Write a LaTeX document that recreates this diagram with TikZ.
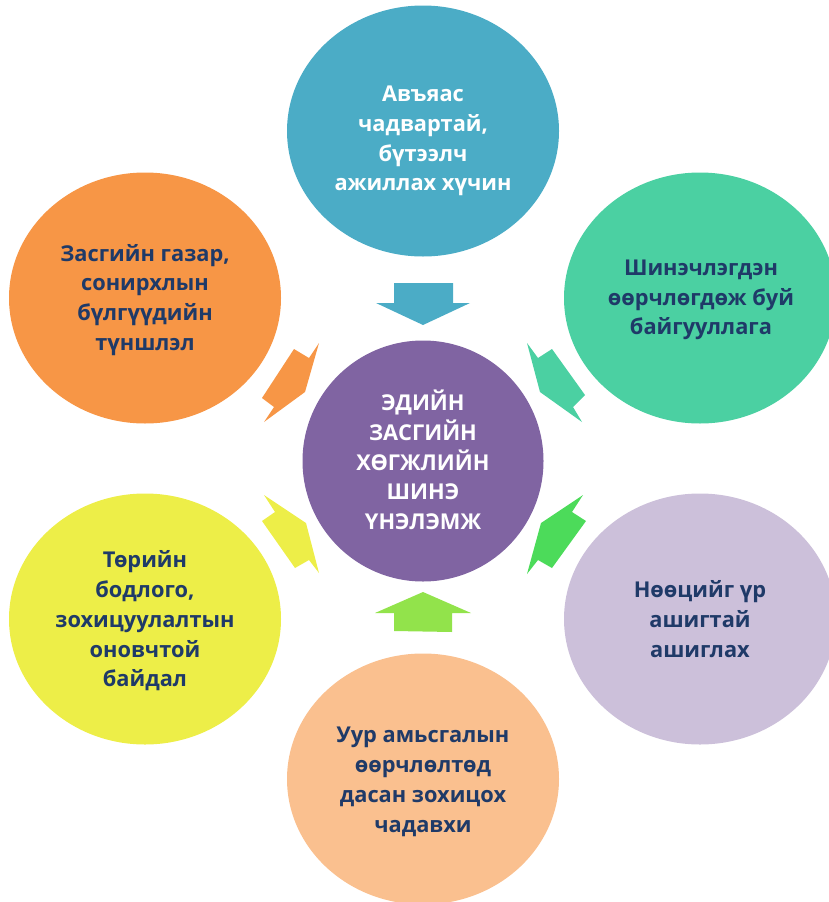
\documentclass[tikz,border=0pt]{standalone}
\usepackage{fontspec}
\setmainfont{Open Sans}
\usetikzlibrary{shapes.geometric}
\definecolor{cteal}{RGB}{75,172,198}
\definecolor{cgreen}{RGB}{75,208,162}
\definecolor{clav}{RGB}{204,192,218}
\definecolor{cpeach}{RGB}{250,192,143}
\definecolor{cyellow}{RGB}{237,238,72}
\definecolor{corange}{RGB}{247,150,70}
\definecolor{cpurple}{RGB}{128,100,162}
\definecolor{cbright}{RGB}{76,219,90}
\definecolor{clime}{RGB}{146,227,75}
\definecolor{ctext}{RGB}{31,58,104}
\begin{document}
\begin{tikzpicture}[x=1pt,y=-1pt,
  bubble/.style={ellipse, draw=none, inner sep=0pt, minimum width=272pt, minimum height=251pt},
  label/.style={align=center, text=ctext, font=\bfseries\fontsize{21.8}{29.8}\selectfont, inner sep=0pt},
  wlabel/.style={label, text=white}]
\useasboundingbox (0,0) rectangle (829,902);
% bubbles
\node[bubble, fill=cteal] (top) at (423,131) {};
\node[bubble, fill=corange] (ul) at (145,298) {};
\node[bubble, fill=cgreen] (ur) at (700,298) {};
\node[bubble, fill=cyellow] (ll) at (145,619) {};
\node[bubble, fill=clav] (lr) at (700,619) {};
\node[bubble, fill=cpeach] (bot) at (423,779) {};
\node[bubble, fill=cpurple, minimum width=241pt, minimum height=241pt] (mid) at (423,461) {};
% arrows
\fill[cteal] (394,283) -- (453,283) -- (453,303) -- (470,303) -- (423,325) -- (376,303) -- (394,303) -- cycle;
\fill[clime] (423,592) -- (471,613) -- (452,613) -- (452,632) -- (394,631) -- (394,613) -- (375,613) -- cycle;
\fill[cgreen] (540,392) -- (527,343) -- (538,358) -- (552,349) -- (585,395) -- (573,407) -- (582,422) -- cycle;
\fill[corange] (305,392) -- (319,343) -- (309,358) -- (294,349) -- (262,398) -- (274,407) -- (264,422) -- cycle;
\fill[cbright] (541,523) -- (583,495) -- (572,512) -- (586,521) -- (552,568) -- (538,560) -- (527,574) -- cycle;
\fill[cyellow] (306,523) -- (264,495) -- (275,512) -- (262,521) -- (295,568) -- (309,560) -- (319,573) -- cycle;
% texts
\node[wlabel] (ttop) at (423,141) {Авъяас\\чадвартай,\\бүтээлч\\ажиллах хүчин};
\node[label] (tul) at (145,300) {Засгийн газар,\\сонирхлын\\бүлгүүдийн\\түншлэл};
\node[label] (tur) at (701,300) {Шинэчлэгдэн\\өөрчлөгдөж буй\\байгууллага};
\node[label] (tll) at (145,621) {Төрийн\\бодлого,\\зохицуулалтын\\оновчтой\\байдал};
\node[label] (tlr) at (700,619) {Нөөцийг үр\\ашигтай\\ашиглах};
\node[label] (tbot) at (423,782) {Уур амьсгалын\\өөрчлөлтөд\\дасан зохицох\\чадавхи};
\node[wlabel] (tmid) at (423,460) {ЭДИЙН\\ЗАСГИЙН\\ХӨГЖЛИЙН\\ШИНЭ\\ҮНЭЛЭМЖ};
\end{tikzpicture}
\end{document}
